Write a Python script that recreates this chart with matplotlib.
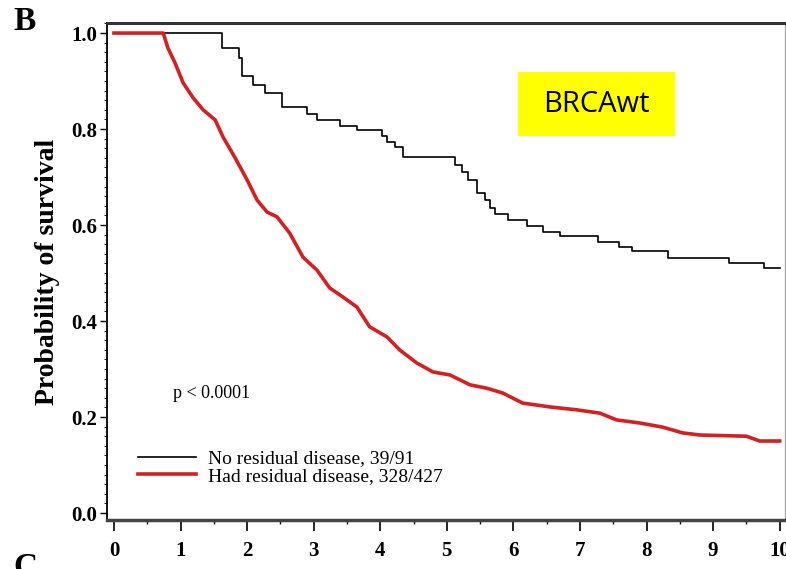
import matplotlib.pyplot as plt
from matplotlib.patches import Rectangle
from matplotlib.ticker import MultipleLocator

# Kaplan-Meier, no residual disease (step times in years, survival after step)
black_t = [0, 1.63, 1.88, 1.92, 2.09, 2.27, 2.52, 2.90, 3.05, 3.39, 3.65, 4.02, 4.10, 4.22,
           4.34, 5.12, 5.23, 5.32, 5.45, 5.57, 5.65, 5.72, 5.92, 6.20, 6.44, 6.70, 7.27,
           7.58, 7.78, 8.33, 9.24, 9.77, 10.0]
black_s = [1.0, 0.969, 0.948, 0.91, 0.892, 0.875, 0.846, 0.831, 0.819, 0.806, 0.798, 0.785,
           0.773, 0.762, 0.742, 0.725, 0.71, 0.694, 0.667, 0.652, 0.635, 0.622, 0.610, 0.598,
           0.585, 0.578, 0.565, 0.554, 0.546, 0.531, 0.521, 0.510, 0.510]

# had residual disease (dense steps, traced as points)
red_t = [0, 0.74, 0.81, 0.92, 1.04, 1.19, 1.34, 1.52, 1.64, 1.82, 2.00, 2.15, 2.30, 2.45,
         2.64, 2.84, 3.05, 3.24, 3.44, 3.65, 3.84, 4.10, 4.29, 4.55, 4.79, 5.05, 5.35, 5.60,
         5.84, 6.14, 6.55, 6.95, 7.30, 7.55, 7.90, 8.24, 8.54, 8.80, 9.50, 9.70, 10.0]
red_s = [1.0, 1.0, 0.969, 0.937, 0.896, 0.865, 0.84, 0.819, 0.783, 0.74, 0.694, 0.652, 0.627,
         0.617, 0.583, 0.533, 0.506, 0.469, 0.45, 0.429, 0.388, 0.367, 0.34, 0.3125, 0.294,
         0.2875, 0.267, 0.26, 0.25, 0.229, 0.221, 0.215, 0.208, 0.194, 0.1875, 0.179, 0.167,
         0.1625, 0.16, 0.15, 0.15]

labels = ["No residual disease, 39/91", "Had residual disease, 328/427"]
xticks = list(range(0, 11))
yticks = [0.0, 0.2, 0.4, 0.6, 0.8, 1.0]

serif = "Liberation Serif"

fig = plt.figure(figsize=(7.86, 5.69), dpi=100)
ax = fig.add_axes([0.1361, 0.0861, 0.8626, 0.8735])

ax.step(black_t, black_s, where="post", color="black", lw=1.2, label=labels[0])
ax.plot(red_t, red_s, color="#d42020", lw=2.6, label=labels[1])

ax.set_xlim(-0.105, 10.08)
ax.set_ylim(-0.0146, 1.021)
ax.set_xticks(xticks)
ax.set_yticks(yticks)
ax.set_yticklabels(["%.1f" % v for v in yticks])
ax.xaxis.set_minor_locator(MultipleLocator(0.5))
ax.yaxis.set_minor_locator(MultipleLocator(0.02))
ax.tick_params(axis="x", which="major", length=8, width=1.2, pad=7, direction="out")
ax.tick_params(axis="x", which="minor", length=3, width=1, direction="out")
ax.tick_params(axis="y", which="major", length=5, width=1, pad=2, direction="out")
ax.tick_params(axis="y", which="minor", length=2, width=0.6, direction="out")
ax.tick_params(top=False, right=False)
for lab in ax.get_xticklabels() + ax.get_yticklabels():
    lab.set_fontfamily(serif)
    lab.set_fontweight("bold")
    lab.set_fontsize(15)

ax.spines["top"].set_linewidth(2.2)
ax.spines["top"].set_color("#333333")
ax.spines["bottom"].set_linewidth(2.5)
ax.spines["bottom"].set_color("#444444")
ax.spines["left"].set_linewidth(1.3)
ax.spines["right"].set_linewidth(1)
ax.spines["right"].set_color("#aaaaaa")

ax.set_ylabel("Probability of survival", fontfamily=serif, fontweight="bold",
              fontsize=20, labelpad=8)

ax.text(0.88, 0.25, "p < 0.0001", fontfamily=serif, fontsize=13, va="center")
leg = ax.legend(loc="lower left", bbox_to_anchor=(0.02, 0.035), frameon=False,
                prop={"family": serif, "size": 14}, handlelength=3.0,
                handletextpad=0.6, labelspacing=0.0)

# yellow BRCAwt label
fig.patches.append(Rectangle((0.659, 0.761), 0.2, 0.1125, transform=fig.transFigure,
                             facecolor="#ffff00", edgecolor="none", zorder=5))
fig.text(0.759, 0.817, "BRCAwt", fontfamily="Open Sans", fontsize=21,
         ha="center", va="center", zorder=6)

# panel letters (cropped at edges, as in the source figure)
fig.text(0.017, 0.99, "B", fontfamily=serif, fontweight="bold", fontsize=24, va="top")
fig.text(0.017, -0.025, "C", fontfamily=serif, fontweight="bold", fontsize=24, va="bottom")

fig.savefig("out.png", dpi=100)
